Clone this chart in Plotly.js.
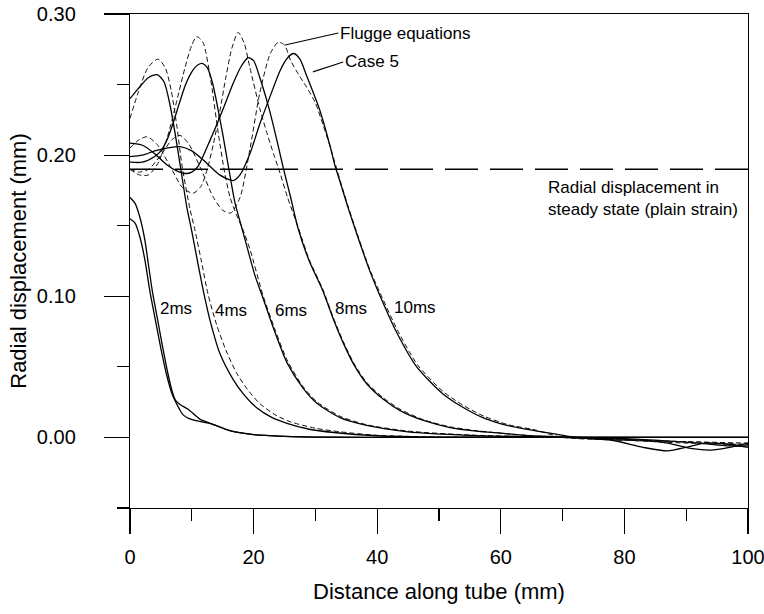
<!DOCTYPE html>
<html>
<head>
<meta charset="utf-8">
<script src="https://cdn.plot.ly/plotly-3.0.1.min.js"></script>
<style>html,body{margin:0;padding:0;background:#fff;}#chart{width:764px;height:614px;}</style>
</head>
<body>
<div id="chart"></div>
<script>
// ---- Data (distance along tube in mm, radial displacement in mm) ----
const x_c5_2ms = [0, 0.8, 1.6, 2.4, 3.0, 3.6, 4.4, 5.2, 6.1, 6.8, 7.4, 8.2, 9.4, 11.3, 13.3, 16, 20, 25, 32, 40, 100];
const y_c5_2ms = [0.170, 0.166, 0.156, 0.140, 0.122, 0.104, 0.085, 0.066, 0.046, 0.033, 0.026, 0.023, 0.020, 0.013, 0.0095, 0.005, 0.002, 0.0008, 0.0002, 0, 0];
const x_fl_2ms = [0, 0.8, 1.6, 2.4, 3.2, 4.2, 5.0, 6.0, 6.8, 7.3, 8.0, 8.6, 9.5, 10.5, 13.3, 16, 20, 25, 32, 40, 100];
const y_fl_2ms = [0.155, 0.152, 0.142, 0.126, 0.104, 0.081, 0.063, 0.043, 0.031, 0.026, 0.020, 0.016, 0.0135, 0.012, 0.0095, 0.005, 0.002, 0.0008, 0.0002, 0, 0];

const x_c5_4ms = [0, 1.5, 3, 4.4, 5.5, 6.5, 7.5, 8.3, 9.2, 10, 11, 12.1, 13, 14.5, 16.7, 18.5, 20.5, 23, 25.4, 29, 33, 40, 50, 100];
const y_c5_4ms = [0.240, 0.248, 0.255, 0.257, 0.252, 0.235, 0.210, 0.188, 0.163, 0.146, 0.123, 0.099, 0.082, 0.060, 0.041, 0.030, 0.021, 0.014, 0.010, 0.0058, 0.0035, 0.0012, 0.0002, 0];
const x_fl_4ms = [0, 1.3, 2.9, 4.5, 5.7, 6.7, 7.6, 8.4, 9.7, 10.5, 11.5, 12.6, 14, 15.5, 17.2, 19, 21, 23.5, 26, 30, 34, 40, 50, 100];
const y_fl_4ms = [0.226, 0.244, 0.262, 0.268, 0.262, 0.245, 0.220, 0.193, 0.162, 0.147, 0.126, 0.102, 0.080, 0.062, 0.046, 0.034, 0.024, 0.016, 0.011, 0.0065, 0.004, 0.0015, 0.0003, 0];

const x_c5_6ms = [0, 2, 4, 5, 6, 7, 8, 9, 10, 11, 11.7, 12.5, 13.3, 14, 15, 16, 17, 18, 19, 20.2, 21.5, 23.5, 25.4, 28, 30.3, 34, 38.3, 45, 55, 65, 72, 80, 85, 92, 97, 100];
const y_c5_6ms = [0.195, 0.195, 0.199, 0.203, 0.211, 0.223, 0.237, 0.250, 0.259, 0.264, 0.265, 0.262, 0.252, 0.238, 0.215, 0.190, 0.166, 0.150, 0.134, 0.115, 0.099, 0.074, 0.053, 0.035, 0.024, 0.014, 0.0085, 0.004, 0.0015, 0.0005, 0, -0.0008, -0.002, -0.004, -0.006, -0.006];
const x_fl_6ms = [0, 1.5, 3, 4.5, 6, 7.6, 8.9, 10, 10.8, 11.8, 13, 14.3, 15.3, 16.2, 17.2, 18.3, 19.5, 21.5, 23.5, 25.4, 28, 30.3, 34, 38.3, 45, 55, 65, 70, 80, 90, 100];
const y_fl_6ms = [0.190, 0.186, 0.186, 0.194, 0.212, 0.239, 0.262, 0.278, 0.284, 0.280, 0.255, 0.215, 0.188, 0.170, 0.158, 0.147, 0.132, 0.101, 0.076, 0.055, 0.036, 0.025, 0.015, 0.009, 0.0045, 0.0017, 0.0005, 0, -0.002, -0.003, -0.004];

const x_c5_8ms = [0, 2, 4, 6, 7.5, 8.9, 10, 11, 13, 15, 16.7, 18, 19.1, 20, 21, 22.5, 23.8, 24.8, 26, 27.2, 29, 31.2, 32.8, 34.5, 36.3, 38.3, 41, 43.7, 47.5, 51.8, 56, 60, 64, 68, 72, 78, 83, 87, 91, 94, 97, 100];
const y_c5_8ms = [0.2085, 0.207, 0.201, 0.193, 0.189, 0.187, 0.188, 0.192, 0.211, 0.232, 0.251, 0.263, 0.269, 0.267, 0.255, 0.233, 0.210, 0.191, 0.170, 0.148, 0.125, 0.104, 0.085, 0.067, 0.051, 0.038, 0.027, 0.019, 0.012, 0.007, 0.0045, 0.003, 0.0015, 0.0007, 0, -0.001, -0.002, -0.004, -0.008, -0.009, -0.007, -0.004];
const x_fl_8ms = [0, 1.5, 2.8, 4.5, 6.5, 8.5, 10.2, 11.5, 12.5, 13.5, 14.5, 15.5, 16.5, 17.5, 18.5, 19.4, 21, 22.2, 23.3, 24.3, 25.5, 27.2, 29, 31.2, 32.8, 34.5, 36.3, 38.3, 41, 43.7, 47.5, 51.8, 56, 60, 64, 70, 80, 90, 100];
const y_fl_8ms = [0.205, 0.211, 0.213, 0.207, 0.192, 0.177, 0.173, 0.178, 0.190, 0.208, 0.230, 0.255, 0.276, 0.287, 0.279, 0.262, 0.233, 0.215, 0.200, 0.187, 0.170, 0.149, 0.126, 0.105, 0.086, 0.068, 0.052, 0.039, 0.028, 0.020, 0.0125, 0.0075, 0.0048, 0.003, 0.0015, 0, -0.002, -0.003, -0.005];

const x_c5_10ms = [0, 2, 4, 6, 8.1, 10, 12, 14.5, 16.7, 17.8, 19.4, 21, 22.7, 24.3, 25.5, 26.5, 27.5, 28.6, 30.7, 32.4, 33.2, 34, 35.2, 36.4, 38.8, 40.1, 43.2, 46.4, 50.6, 54, 57.1, 61, 65.2, 68, 72, 78, 83, 87, 90, 93, 97, 100];
const y_c5_10ms = [0.199, 0.200, 0.203, 0.205, 0.206, 0.203, 0.196, 0.186, 0.182, 0.186, 0.201, 0.222, 0.242, 0.260, 0.269, 0.272, 0.268, 0.256, 0.232, 0.206, 0.192, 0.181, 0.164, 0.148, 0.118, 0.104, 0.074, 0.050, 0.031, 0.021, 0.014, 0.0085, 0.005, 0.003, 0, -0.002, -0.007, -0.0095, -0.007, -0.004, -0.005, -0.007];
const x_fl_10ms = [0, 1.5, 3, 5, 6.8, 8.1, 9.5, 11.5, 13.5, 15, 16.3, 17.8, 19.4, 21, 22.7, 24, 25, 26, 27.3, 28.6, 30, 31.2, 32.6, 34, 35.2, 36.4, 38.8, 40.3, 43.4, 46.6, 50.8, 54.2, 57.3, 61.2, 65.4, 70, 80, 90, 100];
const y_fl_10ms = [0.190, 0.188, 0.190, 0.200, 0.211, 0.214, 0.208, 0.190, 0.170, 0.161, 0.159, 0.170, 0.204, 0.244, 0.272, 0.280, 0.278, 0.267, 0.257, 0.248, 0.237, 0.222, 0.203, 0.182, 0.165, 0.149, 0.119, 0.104, 0.075, 0.051, 0.032, 0.022, 0.015, 0.009, 0.0055, 0, -0.002, -0.004, -0.005];

const x_steady = [0, 100];
const y_steady = [0.19, 0.19];

const timeLabels = ['2ms', '4ms', '6ms', '8ms', '10ms'];
const timeLabelX = [7.5, 16.3, 26.1, 35.8, 46.1];
const timeLabelY = [0.091, 0.090, 0.090, 0.091, 0.092];

// ---- Styles ----
const FONT = 'Liberation Sans, Arial, Helvetica, sans-serif';
const solid = {color: '#000', width: 1.3, shape: 'spline', smoothing: 0.7};
const dashed = {color: '#111', width: 1.0, dash: '5px,3px', shape: 'spline', smoothing: 0.7};

function tr(x, y, name, line) {
  return {x: x, y: y, name: name, mode: 'lines', type: 'scatter', line: line, hoverinfo: 'skip', cliponaxis: true};
}

const traces = [
  tr(x_steady, y_steady, 'Steady state (plain strain)', {color: '#000', width: 1.3, dash: '33px,12px'}),
  tr(x_c5_2ms, y_c5_2ms, 'Case 5, 2ms', solid),
  tr(x_fl_2ms, y_fl_2ms, 'Flugge, 2ms', solid),
  tr(x_fl_4ms, y_fl_4ms, 'Flugge, 4ms', dashed),
  tr(x_c5_4ms, y_c5_4ms, 'Case 5, 4ms', solid),
  tr(x_fl_6ms, y_fl_6ms, 'Flugge, 6ms', dashed),
  tr(x_c5_6ms, y_c5_6ms, 'Case 5, 6ms', solid),
  tr(x_fl_8ms, y_fl_8ms, 'Flugge, 8ms', dashed),
  tr(x_c5_8ms, y_c5_8ms, 'Case 5, 8ms', solid),
  tr(x_fl_10ms, y_fl_10ms, 'Flugge, 10ms', dashed),
  tr(x_c5_10ms, y_c5_10ms, 'Case 5, 10ms', solid)
];

const annotations = timeLabels.map((t, i) => ({
  x: timeLabelX[i], y: timeLabelY[i], xref: 'x', yref: 'y', text: t,
  showarrow: false, font: {family: FONT, size: 17, color: '#000'}
}));
annotations.push({
  x: 25.1, y: 0.278, ax: 33.7, ay: 0.2865, axref: 'x', ayref: 'y', xref: 'x', yref: 'y',
  text: 'Flugge equations', showarrow: true, arrowhead: 0, arrowwidth: 1.1, arrowcolor: '#000',
  xanchor: 'left', font: {family: FONT, size: 17, color: '#000'}
});
annotations.push({
  x: 29.6, y: 0.259, ax: 34.5, ay: 0.266, axref: 'x', ayref: 'y', xref: 'x', yref: 'y',
  text: 'Case 5', showarrow: true, arrowhead: 0, arrowwidth: 1.1, arrowcolor: '#000',
  xanchor: 'left', font: {family: FONT, size: 17, color: '#000'}
});
annotations.push({
  x: 67.3, y: 0.169, xref: 'x', yref: 'y', xanchor: 'left', align: 'left',
  text: 'Radial displacement in<br>steady state (plain strain)', showarrow: false,
  font: {family: FONT, size: 17, color: '#000'}
});

const axisCommon = {
  showline: true, linecolor: '#000', linewidth: 1.2, mirror: true,
  showgrid: false, zeroline: false,
  ticks: 'outside', ticklen: 25, tickwidth: 1.2, tickcolor: '#000',
  ticklabeloverflow: 'allow',
  tickfont: {family: FONT, size: 20, color: '#000'}
};

const layout = {
  width: 764, height: 614,
  margin: {l: 130, r: 16, t: 14, b: 106},
  paper_bgcolor: '#fff', plot_bgcolor: '#fff',
  showlegend: false,
  font: {family: FONT, color: '#000'},
  xaxis: Object.assign({}, axisCommon, {
    range: [0, 100], tickmode: 'linear', tick0: 0, dtick: 20, ticklabelstandoff: 6,
    minor: {dtick: 10, ticks: 'outside', ticklen: 12, tickwidth: 1.2, tickcolor: '#000', showgrid: false},
    title: {text: 'Distance along tube (mm)', font: {family: FONT, size: 22, color: '#000'}, standoff: 16}
  }),
  yaxis: Object.assign({}, axisCommon, {
    range: [-0.05, 0.30], tickmode: 'linear', tick0: 0, dtick: 0.1, tickformat: '.2f', ticklabelstandoff: 24,
    minor: {dtick: 0.05, ticks: 'outside', ticklen: 12, tickwidth: 1.2, tickcolor: '#000', showgrid: false},
    title: {text: 'Radial displacement (mm)', font: {family: FONT, size: 22, color: '#000'}, standoff: 4}
  }),
  annotations: annotations
};

Plotly.newPlot('chart', traces, layout, {displayModeBar: false, staticPlot: true});
</script>
</body>
</html>
